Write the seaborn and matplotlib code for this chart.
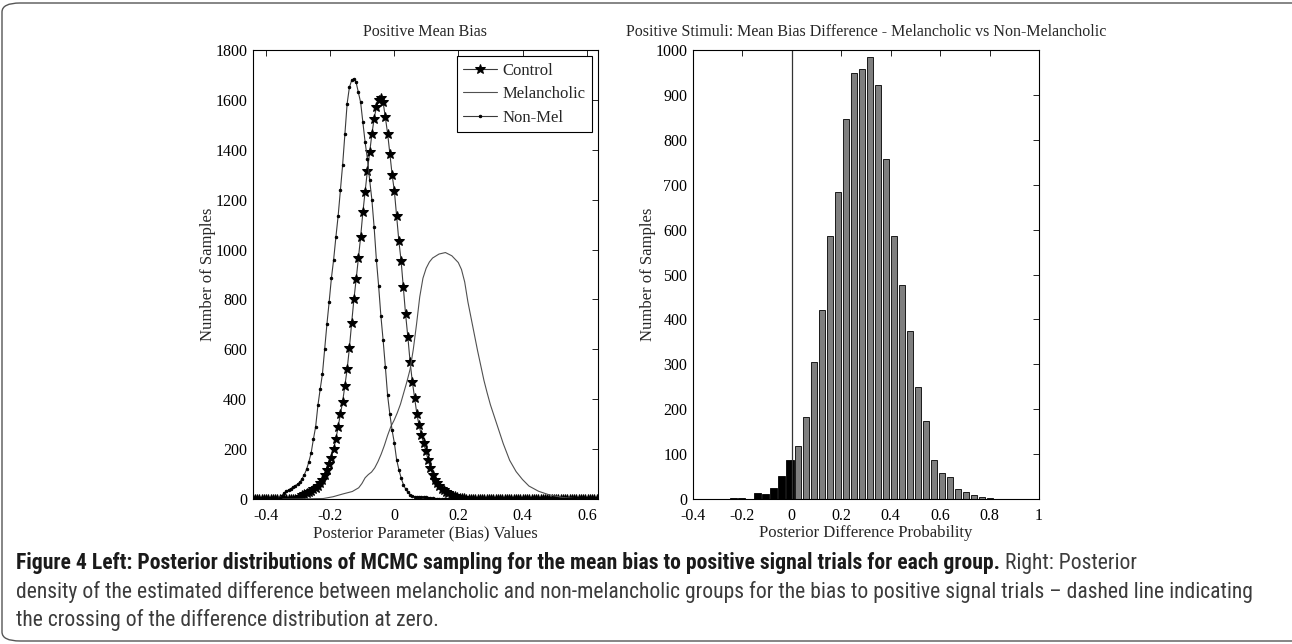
import numpy as np
import pandas as pd
import seaborn as sns
import matplotlib.pyplot as plt
from matplotlib import font_manager
from matplotlib.patches import FancyBboxPatch

# left panel: counts, on a shared bias grid
bias_start = -0.44
bias_step = 0.007
control_counts = [
    0, 0, 0, 0, 0, 0, 0, 0, 0, 0, 0, 0, 0, 0, 0, 0, 0, 0, 0, 1,
    4, 10, 15, 20, 25, 29, 33, 39, 45, 52, 63, 78, 96, 115, 140, 165, 200, 240, 290, 340,
    390, 455, 520, 605, 705, 800, 880, 965, 1050, 1150, 1232, 1315, 1390, 1462, 1525, 1570, 1598, 1607, 1590, 1530,
    1465, 1385, 1300, 1235, 1135, 1035, 955, 850, 740, 650, 550, 470, 405, 342, 295, 257, 223, 193, 157, 125,
    98, 78, 63, 52, 42, 35, 28, 23, 18, 14, 11, 8, 6, 5, 3, 2, 1, 0, 0, 0,
    0, 0, 0, 0, 0, 0, 0, 0, 0, 0, 0, 0, 0, 0, 0, 0, 0, 0, 0, 0,
    0, 0, 0, 0, 0, 0, 0, 0, 0, 0, 0, 0, 0, 0, 0, 0, 0, 0, 0, 0,
    0, 0, 0, 0, 0, 0, 0, 0, 0, 0, 0, 0, 0, 0, 0,
]
nonmel_counts = [
    0, 0, 0, 0, 0, 0, 0, 0, 0, 0, 0, 1, 5, 14, 24, 31, 37, 42, 48, 54,
    60, 68, 82, 98, 120, 150, 185, 240, 290, 375, 440, 500, 600, 700, 790, 885, 960, 1050, 1135, 1240,
    1340, 1465, 1585, 1650, 1678, 1685, 1670, 1630, 1590, 1510, 1430, 1365, 1280, 1200, 1090, 960, 855, 735, 637, 530,
    415, 340, 275, 225, 158, 118, 85, 58, 40, 27, 18, 12, 10, 9, 9, 8, 8, 7, 6, 5,
    4, 2, 1, 0, 0, 0, 0, 0, 0, 0, 0, 0, 0, 0, 0, 0, 0, 0, 0, 0,
    0, 0, 0, 0, 0, 0, 0, 0, 0, 0, 0, 0, 0, 0, 0, 0, 0, 0, 0, 0,
    0, 0, 0, 0, 0, 0, 0, 0, 0, 0, 0, 0, 0, 0, 0, 0, 0, 0, 0, 0,
    0, 0, 0, 0, 0, 0, 0, 0, 0, 0, 0, 0, 0, 0, 0,
]
mel_bias = [-0.44, -0.30, -0.22, -0.19, -0.16, -0.13, -0.11, -0.10, -0.09, -0.08,
            -0.07, -0.06, -0.05, -0.04, -0.03, -0.02, -0.01, 0.0, 0.01, 0.02,
            0.03, 0.04, 0.05, 0.06, 0.07, 0.08, 0.09, 0.10, 0.11, 0.12,
            0.14, 0.16, 0.18, 0.20, 0.21, 0.22, 0.23, 0.24, 0.25, 0.26,
            0.27, 0.28, 0.29, 0.30, 0.32, 0.34, 0.36, 0.38, 0.40, 0.42,
            0.45, 0.48, 0.52, 0.56, 0.60, 0.64]
mel_counts = [0, 0, 2, 9, 20, 30, 45, 62, 85, 98,
              108, 125, 150, 180, 215, 255, 290, 315, 345, 380,
              425, 470, 520, 600, 700, 810, 885, 925, 950, 966,
              982, 988, 975, 948, 920, 870, 790, 725, 660, 595,
              535, 475, 425, 378, 300, 222, 155, 110, 78, 52,
              31, 18, 7, 2, 0, 0]
bias_ticks = [-0.4, -0.2, 0, 0.2, 0.4, 0.6]
left_count_ticks = [0, 200, 400, 600, 800, 1000, 1200, 1400, 1600, 1800]

# right panel: histogram of the difference
diff_start = -0.334
diff_width = 0.0325
diff_counts = [1, 0, 0, 2, 2, 1, 13, 12, 24, 52,
               86, 119, 182, 305, 420, 585, 684, 847, 948, 957,
               985, 921, 757, 585, 476, 375, 250, 173, 87, 58,
               50, 22, 16, 10, 4, 2, 1, 0, 1, 1]
diff_ticks = [-0.4, -0.2, 0, 0.2, 0.4, 0.6, 0.8, 1]
right_count_ticks = [0, 100, 200, 300, 400, 500, 600, 700, 800, 900, 1000]

caption_bold = "Figure 4 Left: Posterior distributions of MCMC sampling for the mean bias to positive signal trials for each group."
caption_lines = [
    " Right: Posterior",
    "density of the estimated difference between melancholic and non-melancholic groups for the bias to positive signal trials \u2013 dashed line indicating",
    "the crossing of the difference distribution at zero.",
]

sns.set_style("white")
plt.rcParams["font.family"] = ["Liberation Serif", "DejaVu Serif"]
plt.rcParams["axes.unicode_minus"] = False

fig = plt.figure(figsize=(12.92, 6.44), dpi=100)
W, H = 1292, 644
ax1 = fig.add_axes([252.7 / W, 1 - 499 / H, 345.3 / W, 449 / H])
ax2 = fig.add_axes([693 / W, 1 - 499 / H, 346 / W, 449 / H])

bias_x = np.round(bias_start + bias_step * np.arange(len(control_counts)), 4)
line_col = "#3a3a3a"
sns.lineplot(x=bias_x, y=control_counts, ax=ax1, color=line_col, lw=0.8,
             marker="*", markersize=7.5, markerfacecolor="black",
             markeredgecolor="black", label="Control")
sns.lineplot(x=mel_bias, y=mel_counts, ax=ax1, color="#505050", lw=0.8,
             label="Melancholic")
sns.lineplot(x=bias_x, y=nonmel_counts, ax=ax1, color=line_col, lw=0.8,
             marker=".", markersize=3.5, markerfacecolor="black",
             markeredgecolor="black", label="Non-Mel")

ax1.set_xlim(-0.44, 0.635)
ax1.set_ylim(0, 1800)
ax1.set_xticks(bias_ticks)
ax1.set_xticklabels([f"{v:g}" for v in bias_ticks])
ax1.set_yticks(left_count_ticks)
ax1.set_title("Positive Mean Bias", fontsize=11.5, pad=10)
ax1.set_xlabel("Posterior Parameter (Bias) Values", fontsize=12, labelpad=1)
ax1.set_ylabel("Number of Samples", fontsize=12, labelpad=-0.5)
leg = ax1.legend(loc="upper right", fancybox=False, edgecolor="black",
                 framealpha=1, fontsize=12, handlelength=2.0,
                 borderaxespad=0.35, labelspacing=0.45, borderpad=0.4,
                 handletextpad=0.35)
leg.get_frame().set_linewidth(0.8)

# histogram: bins below zero black, the rest grey
edges = diff_start - diff_width / 2 + diff_width * np.arange(len(diff_counts) + 1)
hist_df = pd.DataFrame({"center": edges[:-1] + diff_width / 2, "count": diff_counts})
neg_df = hist_df[hist_df["center"] < 0]
pos_df = hist_df[hist_df["center"] >= 0]
n_neg = len(neg_df)
sns.histplot(data=neg_df, x="center", weights="count", binwidth=diff_width,
             binrange=(edges[0], edges[n_neg]),
             color="black", edgecolor="black", alpha=1, shrink=0.97,
             linewidth=0.6, ax=ax2)
sns.histplot(data=pos_df, x="center", weights="count", binwidth=diff_width,
             binrange=(edges[n_neg], edges[-1]),
             color="#7f7f7f", edgecolor="black", alpha=1, shrink=0.75,
             linewidth=0.6, ax=ax2)
ax2.axvline(0, color="#333333", lw=0.9)
ax2.set_xlim(-0.4, 1)
ax2.set_ylim(0, 1000)
ax2.set_xticks(diff_ticks)
ax2.set_xticklabels([f"{v:g}" for v in diff_ticks])
ax2.set_yticks(right_count_ticks)
ax2.set_title("Positive Stimuli: Mean Bias Difference - Melancholic vs Non-Melancholic",
              fontsize=11.5, pad=10)
ax2.set_xlabel("Posterior Difference Probability", fontsize=12, labelpad=1)
ax2.set_ylabel("Number of Samples", fontsize=12, labelpad=-0.5)

for ax in (ax1, ax2):
    ax.tick_params(direction="in", top=True, right=True, length=4, width=0.6,
                   labelsize=11.5, colors="black")
    ax.tick_params(axis="y", pad=4)
    ax.tick_params(axis="x", pad=6.5)
    for sp in ax.spines.values():
        sp.set_color("black")
        sp.set_linewidth(0.8)
        sp.set_visible(True)

# caption: prefer a condensed sans if one is installed
cap_family = ["Roboto", "DejaVu Sans"]
cap_stretch = "normal"
for f in font_manager.fontManager.ttflist:
    if f.name in ("Liberation Sans Narrow", "Noto Sans Condensed", "Roboto Condensed", "Open Sans Condensed"):
        cap_family = [f.name, "DejaVu Sans"]
        break
    if f.name == "Noto Sans" and str(f.stretch) in ("condensed", "semi-condensed", "extra-condensed"):
        cap_family = ["Noto Sans", "DejaVu Sans"]
        cap_stretch = "condensed"

renderer = fig.canvas.get_renderer()
probe = fig.text(0, 0, caption_lines[1], fontsize=14, family=cap_family, fontstretch=cap_stretch)
cap_size = 14 * 1246 / probe.get_window_extent(renderer).width
probe.remove()

x0 = 16 / W
txt_kw = dict(fontsize=cap_size, family=cap_family, fontstretch=cap_stretch, va="center")
bold = fig.text(x0, 1 - 563 / H, caption_bold, fontweight="bold", color="#1a1a1a", **txt_kw)
bx = bold.get_window_extent(renderer).x1 / W
fig.text(bx, 1 - 563 / H, caption_lines[0], color="#3c3c3c", **txt_kw)
fig.text(x0, 1 - 592 / H, caption_lines[1], color="#3c3c3c", **txt_kw)
fig.text(x0, 1 - 620 / H, caption_lines[2], color="#3c3c3c", **txt_kw)

frame = FancyBboxPatch((2 / W, 3 / H), 1310 / W, 638 / H,
                       boxstyle="round,pad=0,rounding_size=0.014",
                       transform=fig.transFigure, fill=False,
                       edgecolor="#555555", linewidth=1.0)
fig.patches.append(frame)

fig.savefig("out.png", dpi=100)
